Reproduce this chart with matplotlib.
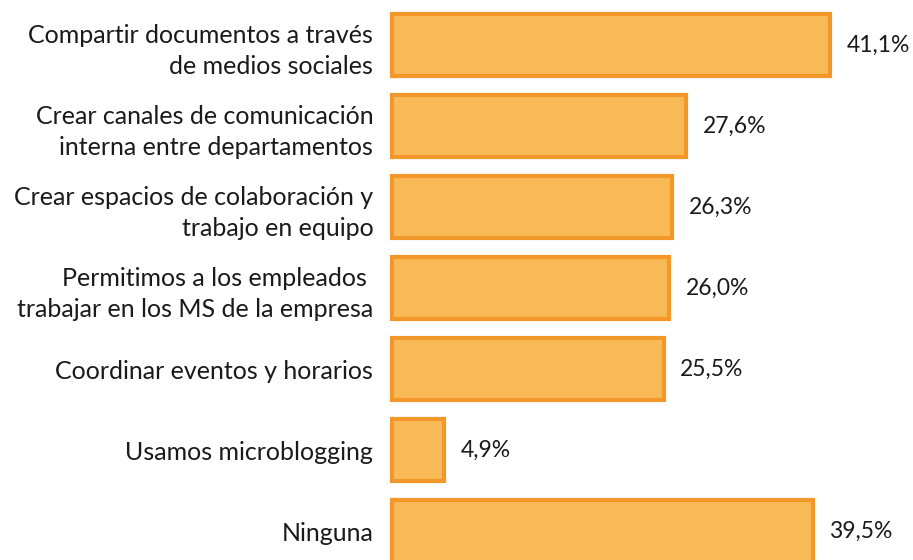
import matplotlib
matplotlib.use("Agg")
import matplotlib.pyplot as plt

categories = [
    "Compartir documentos a través\nde medios sociales",
    "Crear canales de comunicación\ninterna entre departamentos",
    "Crear espacios de colaboración y\ntrabajo en equipo",
    "Permitimos a los empleados \ntrabajar en los MS de la empresa",
    "Coordinar eventos y horarios",
    "Usamos microblogging",
    "Ninguna",
]
values = [41.1, 27.6, 26.3, 26.0, 25.5, 4.9, 39.5]
value_labels = ["41,1%", "27,6%", "26,3%", "26,0%", "25,5%", "4,9%", "39,5%"]

plt.rcParams['font.family'] = ['Lato', 'DejaVu Sans']

W, H = 913, 560
fig = plt.figure(figsize=(W / 100, H / 100), dpi=100)
left_px = 392
ax = fig.add_axes([left_px / W, 0, 1 - left_px / W, 1])

pxper = 10.65
pitch = 81.0
ypos = list(range(len(values)))
ax.barh(ypos, values, height=62 / pitch, color="#F8BA57", edgecolor="#F4972A",
        linewidth=3.0, clip_on=False)

ax.set_xlim(0, (W - left_px) / pxper)
ax.set_ylim((H - 45) / pitch, -45 / pitch)

ax.set_yticks(ypos, categories)
ax.tick_params(axis='y', length=0, pad=13.5, labelsize=18, labelcolor="#1a1a1a")
for t in ax.get_yticklabels():
    t.set_linespacing(1.4)
ax.set_xticks([])
for s in ax.spines.values():
    s.set_visible(False)

for y, v, lab in zip(ypos, values, value_labels):
    ax.annotate(lab, (v, y), xytext=(12, 0), textcoords="offset points",
                ha="left", va="center", fontsize=16.5, color="#1a1a1a",
                annotation_clip=False)

fig.savefig("out.png", dpi=100)
